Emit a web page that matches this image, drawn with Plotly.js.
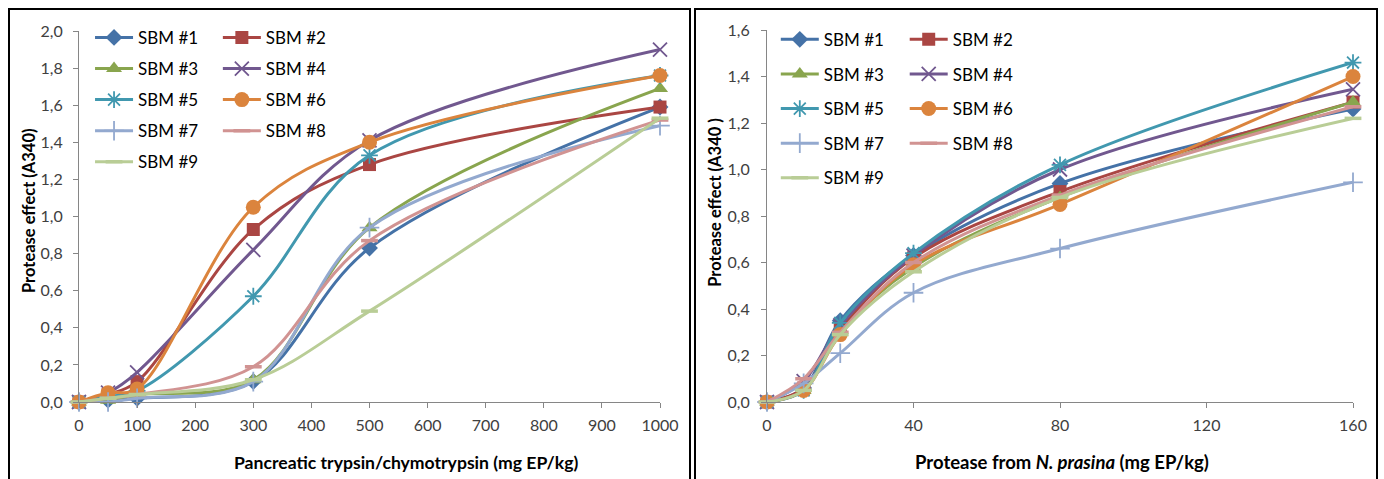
<!DOCTYPE html>
<html>
<head>
<meta charset="utf-8">
<script src="https://cdn.plot.ly/plotly-3.0.1.min.js"></script>
<style>
  html, body { margin:0; padding:0; background:#fff; width:1384px; height:479px; overflow:hidden; }
  #p1 { position:absolute; left:0; top:0; width:692px; height:479px; }
  #p2 { position:absolute; left:692px; top:0; width:692px; height:479px; }
  .frame { position:absolute; border:2px solid #000; box-sizing:border-box; pointer-events:none; z-index:10; }
</style>
</head>
<body>
<div id="p1"></div>
<div id="p2"></div>
<div class="frame" style="left:8px; top:8px; width:683px; height:490px;"></div>
<div class="frame" style="left:694px; top:8px; width:684px; height:490px;"></div>
<script>
// ---------- data ----------
const seriesNames = ["SBM #1","SBM #2","SBM #3","SBM #4","SBM #5","SBM #6","SBM #7","SBM #8","SBM #9"];

// Left panel: pancreatic trypsin/chymotrypsin (mg EP/kg)
const doseP = [0, 50, 100, 300, 500, 1000];
const panc1 = [0, 0.01, 0.02, 0.11, 0.83, 1.59];
const panc2 = [0, 0.04, 0.11, 0.93, 1.28, 1.59];
const panc3 = [0, 0.01, 0.04, 0.12, 0.94, 1.69];
const panc4 = [0, 0.05, 0.16, 0.82, 1.41, 1.90];
const panc5 = [0, 0.03, 0.06, 0.57, 1.33, 1.76];
const panc6 = [0, 0.05, 0.07, 1.05, 1.40, 1.76];
const panc7 = [0, 0.00, 0.02, 0.11, 0.94, 1.49];
const panc8 = [0, 0.02, 0.04, 0.19, 0.87, 1.52];
const panc9 = [0, 0.02, 0.04, 0.12, 0.49, 1.53];

// Right panel: protease from N. prasina (mg EP/kg)
const doseN = [0, 10, 20, 40, 80, 160];
const pras1 = [0, 0.06, 0.35, 0.63, 0.94, 1.26];
const pras2 = [0, 0.06, 0.31, 0.62, 0.905, 1.29];
const pras3 = [0, 0.05, 0.30, 0.58, 0.88, 1.29];
const pras4 = [0, 0.09, 0.33, 0.63, 1.00, 1.345];
const pras5 = [0, 0.05, 0.34, 0.64, 1.02, 1.46];
const pras6 = [0, 0.05, 0.29, 0.59, 0.85, 1.40];
const pras7 = [0, 0.08, 0.21, 0.47, 0.66, 0.945];
const pras8 = [0, 0.10, 0.30, 0.60, 0.89, 1.27];
const pras9 = [0, 0.05, 0.29, 0.56, 0.88, 1.22];

const xTicksP = [0,100,200,300,400,500,600,700,800,900,1000];
const xTicksN = [0,40,80,120,160];

const xTitleP = "Pancreatic trypsin/chymotrypsin (mg EP/kg)";
const xTitleN = "Protease from <i>N. prasina</i> (mg EP/kg)";
const yTitleP = "Protease effect (A340)";
const yTitleN = "Protease effect (A340 )";

// ---------- styles ----------
const FONT = "Lato, 'Open Sans', sans-serif";
const colors = ["#4572A7","#AA4643","#89A54E","#71588F","#4198AF","#DB843D","#93A9CF","#D19392","#B9CD96"];
const markers = [
  {symbol:"diamond", size:13},
  {symbol:"square", size:13},
  {symbol:"triangle-up", size:14},
  {symbol:"x-thin-open", size:14, lw:1.8},
  {symbol:"asterisk-open", size:14, lw:1.8},
  {symbol:"circle", size:15},
  {symbol:"cross-thin-open", size:14, lw:1.8},
  {symbol:"line-ew-open", size:12, lw:3.5},
  {symbol:"line-ew-open", size:12, lw:3.5}
];

function makeTraces(xs, ys) {
  return ys.map((y, i) => {
    const m = markers[i];
    const mk = {symbol:m.symbol, size:m.size, color:colors[i]};
    if (m.lw) mk.line = {color:colors[i], width:m.lw};
    return {
      type:"scatter", mode:"lines+markers", x:xs, y:y, name:seriesNames[i],
      line:{color:colors[i], width:3, shape:"spline", smoothing:1},
      marker:mk, cliponaxis:false,
      legend: (i % 2 === 0) ? "legend" : "legend2",
      legendgroup:"g"+i
    };
  });
}

function baseAxis(extra) {
  return Object.assign({
    showline:true, linecolor:"#868686", linewidth:1,
    ticks:"outside", ticklen:5, tickcolor:"#868686", tickwidth:1,
    showgrid:false, zeroline:false,
    tickfont:{family:FONT, size:16, color:"#404040"}
  }, extra);
}

function legendCfg(x, y, gap) {
  return {x:x, y:y, xanchor:"left", yanchor:"top", bgcolor:"rgba(0,0,0,0)",
    font:{family:FONT, size:17, color:"#000"}, traceorder:"grouped",
    tracegroupgap:gap, itemwidth:38};
}

function titleAnn(text, x, y, size, angle) {
  return {text:text, xref:"paper", yref:"paper", x:x, y:y, xanchor:"center", yanchor:"middle",
    showarrow:false, textangle:angle, font:{family:FONT, size:size, color:"#000", weight:"bold"}};
}

const cfg = {displayModeBar:false, staticPlot:true};

// Left chart
Plotly.newPlot("p1",
  makeTraces(doseP, [panc1,panc2,panc3,panc4,panc5,panc6,panc7,panc8,panc9]),
  {
    width:692, height:479,
    margin:{l:79, r:32, t:31, b:77},
    paper_bgcolor:"#fff", plot_bgcolor:"#fff",
    separators:", ",
    font:{family:FONT},
    xaxis: baseAxis({range:[0,1000], tickvals:xTicksP, ticklabelstandoff:4}),
    yaxis: baseAxis({range:[0,2], dtick:0.2, tickformat:".1f", ticklabelstandoff:7}),
    annotations:[
      titleAnn(xTitleP, 0.563, -0.162, 17.6, 0),
      titleAnn(yTitleP, -0.086, 0.515, 16.5, -90)
    ],
    legend: legendCfg(0.019, 1.03, 6),
    legend2: legendCfg(0.239, 1.03, 6),
    showlegend:true
  }, cfg);

// Right chart
Plotly.newPlot("p2",
  makeTraces(doseN, [pras1,pras2,pras3,pras4,pras5,pras6,pras7,pras8,pras9]),
  {
    width:692, height:479,
    margin:{l:75, r:31, t:30, b:77},
    paper_bgcolor:"#fff", plot_bgcolor:"#fff",
    separators:", ",
    font:{family:FONT},
    xaxis: baseAxis({range:[0,160], tickvals:xTicksN, ticklabelstandoff:4}),
    yaxis: baseAxis({range:[0,1.6], dtick:0.2, tickformat:".1f", ticklabelstandoff:8}),
    annotations:[
      titleAnn(xTitleN, 0.504, -0.161, 18.5, 0),
      titleAnn(yTitleN, -0.089, 0.538, 16.5, -90)
    ],
    legend: legendCfg(0.015, 1.022, 9.5),
    legend2: legendCfg(0.235, 1.022, 9.5),
    showlegend:true
  }, cfg);
</script>
</body>
</html>
